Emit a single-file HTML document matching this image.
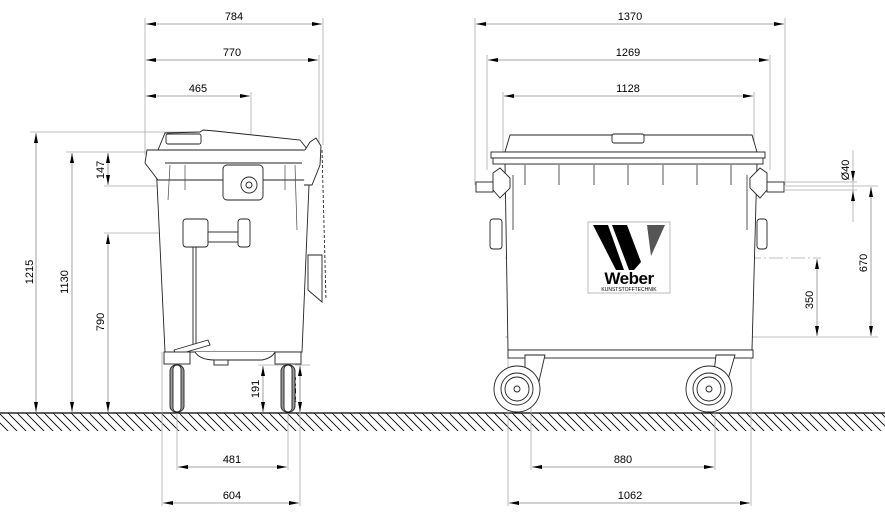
<!DOCTYPE html>
<html><head><meta charset="utf-8"><style>
html,body{margin:0;padding:0;background:#fff;width:885px;height:515px;overflow:hidden}
text{font-family:"Liberation Sans",sans-serif;font-size:11px;fill:#000}
</style></head><body>
<svg width="885" height="515" viewBox="0 0 885 515" xmlns="http://www.w3.org/2000/svg">
<defs>
<marker id="a" viewBox="0 0 10 4" refX="10" refY="2" markerWidth="10" markerHeight="4" orient="auto-start-reverse" markerUnits="userSpaceOnUse"><path d="M0,0L10,2L0,4Z" fill="#000"/></marker>
<pattern id="h" width="9" height="18" patternUnits="userSpaceOnUse"><path d="M-9,0L9,18M0,0L18,18" stroke="#000" stroke-width="0.8"/></pattern>
</defs>
<rect x="0" y="413" width="885" height="18" fill="url(#h)"/>
<line x1="0" y1="413" x2="885" y2="413" stroke="#000" stroke-width="1.2"/>
<g stroke="#aaa" stroke-width="0.8" fill="none">
<line x1="145" y1="18" x2="145" y2="155"/><line x1="323" y1="18" x2="323" y2="145"/><line x1="319" y1="55" x2="319" y2="150"/><line x1="251" y1="92" x2="251" y2="180"/>
<line x1="30" y1="132" x2="210" y2="132"/><line x1="66" y1="152" x2="150" y2="152"/><line x1="104" y1="186" x2="230" y2="186"/><line x1="104" y1="233" x2="185" y2="233"/>
<line x1="258" y1="365" x2="290" y2="365"/><line x1="295" y1="365" x2="310" y2="365"/>
<line x1="177" y1="413" x2="177" y2="470"/><line x1="288" y1="413" x2="288" y2="470"/><line x1="162" y1="352" x2="162" y2="506"/><line x1="300" y1="360" x2="300" y2="506"/>
<line x1="475" y1="18" x2="475" y2="185"/><line x1="785" y1="18" x2="785" y2="185"/><line x1="487" y1="55" x2="487" y2="170"/><line x1="770" y1="55" x2="770" y2="170"/>
<line x1="503" y1="92" x2="503" y2="155"/><line x1="754" y1="92" x2="754" y2="155"/>
<line x1="531" y1="400" x2="531" y2="470"/><line x1="715" y1="400" x2="715" y2="470"/><line x1="508" y1="350" x2="508" y2="506"/><line x1="751" y1="350" x2="751" y2="506"/>
<line x1="785" y1="182" x2="857" y2="182"/><line x1="785" y1="190" x2="857" y2="190"/><line x1="785" y1="186" x2="878" y2="186"/>
<line x1="853" y1="150" x2="853" y2="222"/>
<line x1="760" y1="337" x2="878" y2="337"/><line x1="505" y1="258" x2="821" y2="258" stroke-dasharray="14 3 2 3"/>
<line x1="505" y1="337" x2="760" y2="337" stroke-dasharray="14 3 2 3"/>
</g>
<g stroke="#888" stroke-width="0.8" marker-start="url(#a)" marker-end="url(#a)">
<line x1="146" y1="24" x2="322" y2="24"/><line x1="146" y1="60" x2="318" y2="60"/><line x1="146" y1="96" x2="250" y2="96"/>
<line x1="36" y1="133" x2="36" y2="412"/><line x1="72" y1="153" x2="72" y2="412"/><line x1="108" y1="153" x2="108" y2="185"/><line x1="108" y1="234" x2="108" y2="412"/>
<line x1="263" y1="366" x2="263" y2="412"/><line x1="300" y1="366" x2="300" y2="412"/>
<line x1="178" y1="467" x2="287" y2="467"/><line x1="163" y1="503" x2="299" y2="503"/>
<line x1="476" y1="24" x2="784" y2="24"/><line x1="488" y1="60" x2="769" y2="60"/><line x1="504" y1="96" x2="753" y2="96"/>
<line x1="532" y1="467" x2="714" y2="467"/><line x1="509" y1="503" x2="750" y2="503"/>
<line x1="871" y1="187" x2="871" y2="336"/><line x1="817" y1="259" x2="817" y2="336"/>
</g>
<g stroke="#888" stroke-width="0.8"><line x1="853" y1="170" x2="853" y2="181" marker-end="url(#a)"/><line x1="853" y1="202" x2="853" y2="191" marker-end="url(#a)"/></g>
<text x="234" y="20" text-anchor="middle">784</text><text x="232" y="56" text-anchor="middle">770</text><text x="198" y="92" text-anchor="middle">465</text>
<text x="630" y="20" text-anchor="middle">1370</text><text x="628" y="56" text-anchor="middle">1269</text><text x="628" y="92" text-anchor="middle">1128</text>
<text x="232" y="463" text-anchor="middle">481</text><text x="232" y="499" text-anchor="middle">604</text>
<text x="623" y="463" text-anchor="middle">880</text><text x="630" y="499" text-anchor="middle">1062</text>
<text transform="translate(33,272) rotate(-90)" text-anchor="middle">1215</text>
<text transform="translate(68,282) rotate(-90)" text-anchor="middle">1130</text>
<text transform="translate(104,170) rotate(-90)" text-anchor="middle">147</text>
<text transform="translate(104,322) rotate(-90)" text-anchor="middle">790</text>
<text transform="translate(259,389) rotate(-90)" text-anchor="middle">191</text>
<text transform="translate(296,389) rotate(-90)" text-anchor="middle">Ø200</text>
<text transform="translate(849,170) rotate(-90)" text-anchor="middle">Ø40</text>
<text transform="translate(867,263) rotate(-90)" text-anchor="middle">670</text>
<text transform="translate(813,300) rotate(-90)" text-anchor="middle">350</text>
<g stroke="#222" stroke-width="0.9" fill="#fff">
<path d="M156,161 L165,352 L302,352 L310,161Z"/>
<path d="M165,133 L200,132 L203,130 L215,131 L300,140 L308,150 L158,150Z"/>
<rect x="166" y="134" width="35" height="10" rx="2"/>
<path d="M147,150 L315,150 L317,163 L306,180 L158,180 L145,163Z"/>
<line x1="165" y1="163" x2="302" y2="163"/>
<rect x="223" y="165" width="40" height="35" rx="4"/><circle cx="249" cy="185" r="8"/><circle cx="249" cy="185" r="3"/>
<rect x="183" y="219" width="25" height="28" rx="3"/><rect x="208" y="232" width="30" height="10"/><rect x="238" y="219" width="12" height="28" rx="3"/>
<line x1="193" y1="247" x2="193" y2="345"/><line x1="196" y1="247" x2="196" y2="345"/>
<path d="M174,350 L208,340 L210,345 L176,355Z"/>
<path d="M195,352 Q200,360 215,360 L262,360 Q272,358 275,352"/>
<rect x="214" y="360" width="14" height="5"/>
<path d="M305,150 L310,142 L316,138 L321,146 L320,165 L312,185 L304,185"/>
<path d="M308,255 L322,255 L322,302 L308,290Z"/>
<line x1="322" y1="150" x2="326" y2="300" stroke-dasharray="3 2"/>
<rect x="164" y="352" width="26" height="12"/><rect x="275" y="352" width="26" height="12"/>
<rect x="170" y="365" width="14" height="47" rx="6" fill="#999"/><rect x="173" y="365" width="8" height="47" rx="4"/>
<rect x="281" y="365" width="14" height="47" rx="6" fill="#999"/><rect x="284" y="365" width="8" height="47" rx="4"/>
</g>
<g stroke="#444" stroke-width="0.7"><line x1="170" y1="165" x2="168" y2="200"/><line x1="185" y1="165" x2="185" y2="190"/><line x1="295" y1="165" x2="297" y2="230"/><line x1="285" y1="165" x2="285" y2="190"/></g>
<g stroke="#222" stroke-width="0.9" fill="#fff">
<path d="M505,164 L508,350 L752,350 L757,164Z"/>
<path d="M505,152 L510,135 L752,135 L757,152Z"/>
<rect x="612" y="134" width="32" height="9" rx="2"/>
<rect x="491" y="152" width="274" height="6"/><rect x="493" y="158" width="270" height="6"/>
<path d="M493,173 L500,168 L510,178 L510,188 L500,198 L493,190Z"/><rect x="476" y="182" width="17" height="10"/>
<path d="M767,173 L760,168 L750,178 L750,188 L760,198 L767,190Z"/><rect x="767" y="182" width="17" height="10"/>
<rect x="490" y="219" width="12" height="30" rx="3"/><rect x="757" y="219" width="10" height="30" rx="3"/>
<rect x="508" y="350" width="245" height="8"/>
<path d="M525,355 L545,355 L537,390 L525,390Z"/>
<path d="M716,355 L735,355 L725,390 L712,390Z"/>
<circle cx="517" cy="389" r="23"/><circle cx="517" cy="389" r="16"/><circle cx="517" cy="389" r="12"/><circle cx="517" cy="389" r="3"/>
<circle cx="709" cy="389" r="23"/><circle cx="709" cy="389" r="16"/><circle cx="709" cy="389" r="12"/><circle cx="709" cy="389" r="3"/>
</g>
<g stroke="#444" stroke-width="0.9">
<line x1="525" y1="165" x2="525" y2="185"/><line x1="559" y1="165" x2="559" y2="185"/><line x1="594" y1="165" x2="594" y2="185"/><line x1="628" y1="165" x2="628" y2="185"/><line x1="663" y1="165" x2="663" y2="185"/><line x1="697" y1="165" x2="697" y2="185"/><line x1="731" y1="165" x2="731" y2="185"/>
<line x1="513" y1="175" x2="513" y2="230"/><line x1="747" y1="175" x2="747" y2="230"/>
</g>
<rect x="588" y="222" width="82" height="71" fill="#fff" stroke="#aaa" stroke-width="0.8"/>
<path d="M593,225 L608,225 L624,270 L616,270Z" fill="#000"/>
<path d="M612,225 L627,225 L641,262 L634,270 L629,270Z" fill="#000"/>
<path d="M647,225 L665,225 L651,256Z" fill="#555"/>
<text x="629" y="284" text-anchor="middle" style="font-size:17px;font-weight:bold;letter-spacing:-0.5px">Weber</text>
<text x="629" y="291" text-anchor="middle" style="font-size:5px">KUNSTSTOFFTECHNIK</text>
</svg>
</body></html>
